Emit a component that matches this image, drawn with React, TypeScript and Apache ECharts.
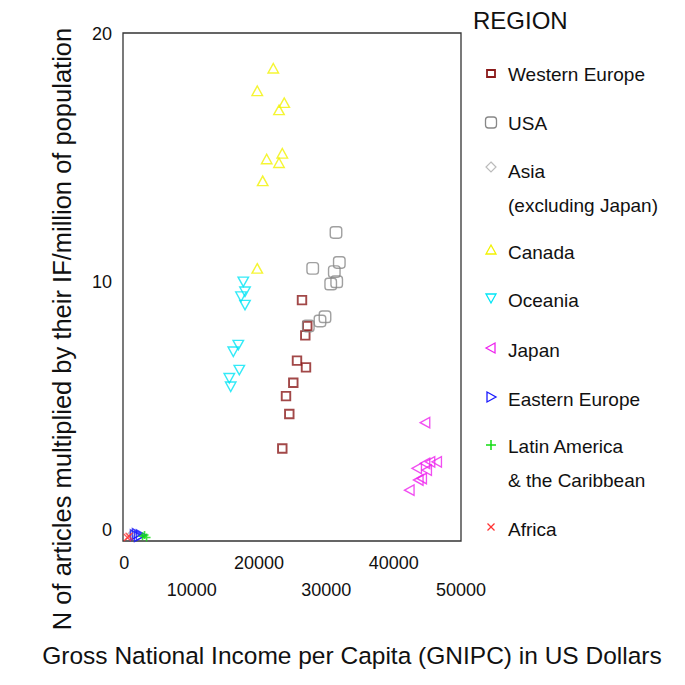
import React, { useEffect, useRef } from "react";
import * as echarts from "echarts";

const FONT = "'Liberation Sans', Arial, sans-serif";

// Series data: [GNIPC (US$), articles x IF / million population]
const westernEurope: number[][] = [
  [26385, 9.27], [27172, 8.23], [26875, 7.85], [25642, 6.83], [26979, 6.56],
  [25093, 5.94], [24009, 5.4], [24499, 4.68], [23459, 3.29],
];
const usa: number[][] = [
  [31435, 12.0], [27975, 10.55], [31925, 10.79], [31183, 10.42], [31539, 10.01],
  [30648, 9.92], [29801, 8.6], [29058, 8.43], [27321, 8.23],
];
const asia: number[][] = [
  [1000, -0.18], [1300, -0.12],
];
const canada: number[][] = [
  [22120, 18.62], [19740, 17.71], [23750, 17.23], [22970, 16.94], [23460, 15.19],
  [21140, 14.96], [22970, 14.81], [20550, 14.08], [19740, 10.55],
];
const oceania: number[][] = [
  [17667, 10.01], [17919, 9.61], [17325, 9.41], [17919, 9.07], [16924, 7.46],
  [16182, 7.19], [17073, 6.45], [15588, 6.12], [15796, 5.78],
];
const japan: number[][] = [
  [44653, 4.33], [46391, 2.75], [45396, 2.75], [44653, 2.69], [43420, 2.49],
  [44906, 2.42], [44163, 2.08], [43658, 2.02], [42323, 1.61],
];
const easternEurope: number[][] = [
  [1600, -0.2], [1900, -0.15], [2200, -0.25], [2500, -0.2],
];
const latinAmerica: number[][] = [
  [2700, -0.25], [3000, -0.2], [3300, -0.3],
];
const africa: number[][] = [
  [450, -0.3], [700, -0.25],
];

const regionNames = [
  "Western Europe",
  "USA",
  "Asia\n(excluding Japan)",
  "Canada",
  "Oceania",
  "Japan",
  "Eastern Europe",
  "Latin America\n& the Caribbean",
  "Africa",
];
const regionColors = [
  "#8b1a1a", "#888888", "#bbbbbb", "#f2f200", "#00e5f5",
  "#ee22ee", "#1a1aff", "#11dd11", "#ff3333",
];
const xTicks = [0, 10000, 20000, 30000, 40000, 50000];
const yTicks = [0, 10, 20];

const SYM = {
  up: "path://M5,0 L10,9 L0,9 Z",
  down: "path://M0,0 L10,0 L5,9 Z",
  left: "path://M0,5 L9,0 L9,10 Z",
  right: "path://M0,0 L9,5 L0,10 Z",
  plus: "path://M5,0 L5,10 M0,5 L10,5",
  cross: "path://M0,0 L10,10 M10,0 L0,10",
};

export default function App() {
  const ref = useRef<HTMLDivElement>(null);
  useEffect(() => {
    if (!ref.current) return;
    const chart = echarts.init(ref.current, undefined, { renderer: "svg" });
    const datasets = [
      westernEurope, usa, asia, canada, oceania, japan, easternEurope, latinAmerica, africa,
    ];
    const symbols: any[] = ["rect", "roundRect", "diamond", SYM.up, SYM.down, SYM.left, SYM.right, SYM.plus, SYM.cross];
    const sizes: any[] = [8.5, 11.5, 8, [10.5, 9.5], [10.5, 9.5], [9.5, 10.5], [9.5, 10.5], 8, 7];
    const widths = [1.9, 1.4, 1.2, 1.4, 1.4, 1.4, 1.4, 1.6, 1.3];

    const series = datasets.map((d, i) => ({
      name: regionNames[i],
      type: "scatter",
      data: d,
      symbol: symbols[i],
      symbolSize: sizes[i],
      itemStyle: {
        color: "rgba(0,0,0,0)",
        borderColor: regionColors[i],
        borderWidth: widths[i],
      },
    }));

    // Legend drawn with graphics
    const legendY = [74, 123, 171, 252, 300, 350, 399, 446, 529];
    const mx = 491;
    const legendGraphics: any[] = [
      {
        type: "text",
        x: 473,
        y: 20,
        style: { text: "REGION", fontSize: 24, fontFamily: FONT, fill: "#111", verticalAlign: "middle" },
      },
    ];
    legendGraphics.push({
      type: "rect", shape: { x: mx - 4, y: legendY[0] - 4, width: 8, height: 7 },
      style: { fill: "none", stroke: regionColors[0], lineWidth: 1.8 },
    });
    legendGraphics.push({
      type: "rect", shape: { x: mx - 5.5, y: legendY[1] - 6, width: 11, height: 11, r: 3 },
      style: { fill: "none", stroke: regionColors[1], lineWidth: 1.3 },
    });
    legendGraphics.push({
      type: "polygon", shape: { points: [[mx, legendY[2] - 9], [mx + 5, legendY[2] - 4], [mx, legendY[2] + 1], [mx - 5, legendY[2] - 4]] },
      style: { fill: "none", stroke: regionColors[2], lineWidth: 1.2 },
    });
    legendGraphics.push({
      type: "polygon", shape: { points: [[mx, legendY[3] - 7], [mx + 5, legendY[3] + 2], [mx - 5, legendY[3] + 2]] },
      style: { fill: "none", stroke: regionColors[3], lineWidth: 1.3 },
    });
    legendGraphics.push({
      type: "polygon", shape: { points: [[mx - 5, legendY[4] - 6], [mx + 5, legendY[4] - 6], [mx, legendY[4] + 3]] },
      style: { fill: "none", stroke: regionColors[4], lineWidth: 1.3 },
    });
    legendGraphics.push({
      type: "polygon", shape: { points: [[mx - 5, legendY[5] - 2], [mx + 4, legendY[5] - 7], [mx + 4, legendY[5] + 3]] },
      style: { fill: "none", stroke: regionColors[5], lineWidth: 1.3 },
    });
    legendGraphics.push({
      type: "polygon", shape: { points: [[mx - 4, legendY[6] - 7], [mx + 5, legendY[6] - 2], [mx - 4, legendY[6] + 3]] },
      style: { fill: "none", stroke: regionColors[6], lineWidth: 1.3 },
    });
    legendGraphics.push({
      type: "line", shape: { x1: mx, y1: legendY[7] - 6, x2: mx, y2: legendY[7] + 4 },
      style: { stroke: regionColors[7], lineWidth: 1.5 },
    });
    legendGraphics.push({
      type: "line", shape: { x1: mx - 5, y1: legendY[7] - 1, x2: mx + 5, y2: legendY[7] - 1 },
      style: { stroke: regionColors[7], lineWidth: 1.5 },
    });
    legendGraphics.push({
      type: "line", shape: { x1: mx - 3.5, y1: legendY[8] - 5.5, x2: mx + 3.5, y2: legendY[8] + 1.5 },
      style: { stroke: regionColors[8], lineWidth: 1.2 },
    });
    legendGraphics.push({
      type: "line", shape: { x1: mx + 3.5, y1: legendY[8] - 5.5, x2: mx - 3.5, y2: legendY[8] + 1.5 },
      style: { stroke: regionColors[8], lineWidth: 1.2 },
    });
    regionNames.forEach((n, i) => {
      legendGraphics.push({
        type: "text",
        x: 508,
        y: legendY[i] - 17,
        style: {
          text: n,
          fontSize: 19,
          lineHeight: 34,
          fontFamily: FONT,
          fill: "#111",
          verticalAlign: "top",
        },
      });
    });

    const option: any = {
      animation: false,
      backgroundColor: "#ffffff",
      textStyle: { fontFamily: FONT },
      grid: {
        left: 123,
        top: 33,
        width: 338,
        height: 508,
        show: true,
        borderColor: "#333",
        borderWidth: 1.3,
        backgroundColor: "rgba(0,0,0,0)",
        containLabel: false,
      },
      xAxis: {
        type: "value",
        min: -200,
        max: 50000,
        axisLine: { show: false },
        axisTick: { show: false },
        splitLine: { show: false },
        axisLabel: {
          customValues: xTicks,
          fontSize: 18,
          color: "#111",
          fontFamily: FONT,
          lineHeight: 27,
          margin: 8,
          formatter: (v: number) => (Math.round(v / 10000) % 2 === 1 ? "\n" + v : String(v)),
        },
      },
      yAxis: {
        type: "value",
        min: -0.44,
        max: 20.04,
        axisLine: { show: false },
        axisTick: { show: false },
        splitLine: { show: false },
        axisLabel: {
          customValues: yTicks,
          fontSize: 18,
          color: "#111",
          fontFamily: FONT,
          margin: 11,
        },
      },
      series,
      graphic: [
        {
          type: "text",
          x: 62,
          y: 329,
          rotation: Math.PI / 2,
          style: {
            text: "N of articles multiplied by their IF/million of population",
            fontSize: 25.5,
            fontFamily: FONT,
            fill: "#111",
            align: "center",
            verticalAlign: "middle",
          },
        },
        {
          type: "text",
          x: 352,
          y: 655,
          style: {
            text: "Gross National Income per Capita (GNIPC) in US Dollars",
            fontSize: 24.5,
            fontFamily: FONT,
            fill: "#111",
            align: "center",
            verticalAlign: "middle",
          },
        },
        ...legendGraphics,
      ],
    };
    chart.setOption(option);
    return () => chart.dispose();
  }, []);
  return <div ref={ref} style={{ width: 685, height: 685, margin: -8 }} />;
}
